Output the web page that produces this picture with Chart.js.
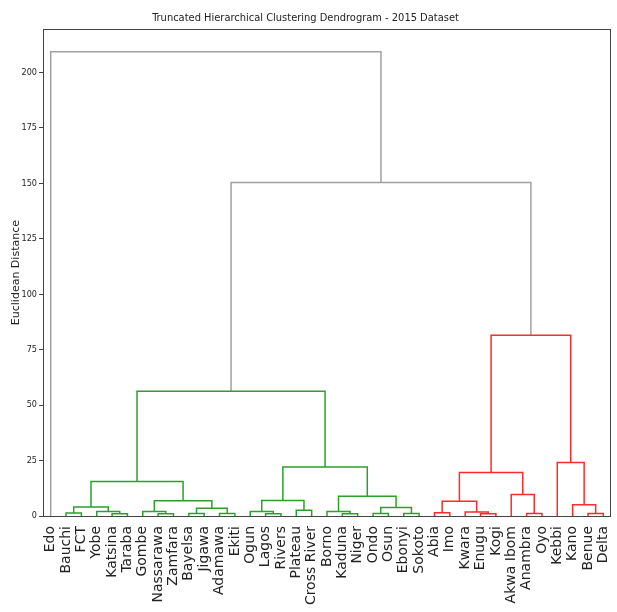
<!DOCTYPE html>
<html>
<head>
<meta charset="utf-8">
<script src="https://cdn.jsdelivr.net/npm/chart.js@4.4.1/dist/chart.umd.min.js"></script>
<style>
  html, body { margin: 0; padding: 0; background: #fff; }
  canvas { display: block; }
</style>
</head>
<body>
<canvas id="dendro" width="617" height="612"></canvas>
<script>
// hojas en el orden en que aparecen en el dendrograma
const leaves = ['Edo', 'Bauchi', 'FCT', 'Yobe', 'Katsina', 'Taraba', 'Gombe', 'Nassarawa',
  'Zamfara', 'Bayelsa', 'Jigawa', 'Adamawa', 'Ekiti', 'Ogun', 'Lagos', 'Rivers', 'Plateau',
  'Cross River', 'Borno', 'Kaduna', 'Niger', 'Ondo', 'Osun', 'Ebonyi', 'Sokoto', 'Abia', 'Imo',
  'Kwara', 'Enugu', 'Kogi', 'Akwa Ibom', 'Anambra', 'Oyo', 'Kebbi', 'Kano', 'Benue', 'Delta'];

// fusiones estilo linkage: [hijo izq, hijo der, distancia]
// hojas 0..36, cada fusión crea el nodo 37, 38, ...
const merges = [
  [4, 5, 1.0], [3, 37, 2.0], [1, 2, 1.3], [39, 38, 4.1],
  [7, 8, 1.0], [6, 41, 2.0], [9, 10, 1.1], [11, 12, 1.1], [43, 44, 3.5], [42, 45, 6.9],
  [40, 46, 15.5],
  [14, 15, 1.0], [13, 48, 2.0], [16, 17, 2.6], [49, 50, 7.0],
  [19, 20, 1.0], [18, 52, 2.0], [21, 22, 1.1], [23, 24, 1.1], [54, 55, 3.8], [53, 56, 8.9],
  [51, 57, 22.1],
  [47, 58, 56.2],
  [25, 26, 1.5], [28, 29, 1.0], [27, 61, 1.8], [60, 62, 6.6],
  [31, 32, 1.1], [30, 64, 9.7], [63, 65, 19.6],
  [35, 36, 1.1], [34, 67, 5.1], [33, 68, 24.1],
  [66, 69, 81.5],
  [59, 70, 150.4],
  [0, 71, 209.3]
];

const yTicks = [0, 25, 50, 75, 100, 125, 150, 175, 200];
const colorThreshold = 100;
const clusterColors = ['#2ca02c', '#ff2a2a'];
const aboveColor = '#a0a0a0';

const narrow = "'Liberation Sans Narrow', 'DejaVu Sans Condensed', 'DejaVu Sans', sans-serif";

// posiciones de los nodos (hojas en 5, 15, 25, ... como scipy)
const n = leaves.length;
const nodeX = leaves.map((_, i) => 10 * i + 5);
const nodeH = leaves.map(() => 0);
merges.forEach(([a, b, h]) => {
  nodeX.push((nodeX[a] + nodeX[b]) / 2);
  nodeH.push(h);
});

// color por cluster debajo del umbral
const linkColor = [];
let nextColor = 0;
function paint(id, color) {
  if (id < n) return;
  const k = id - n;
  const [a, b, h] = merges[k];
  let c = color;
  if (!c && h < colorThreshold) c = clusterColors[nextColor++];
  linkColor[k] = c || aboveColor;
  paint(a, c);
  paint(b, c);
}
paint(n + merges.length - 1, null);

const datasets = merges.map(([a, b, h], k) => ({
  data: [
    { x: nodeX[a], y: nodeH[a] },
    { x: nodeX[a], y: h },
    { x: nodeX[b], y: h },
    { x: nodeX[b], y: nodeH[b] }
  ],
  borderColor: linkColor[k],
  borderWidth: 1.5,
  showLine: true,
  pointRadius: 0,
  fill: false
}));

// marco completo alrededor del área
const boxPlugin = {
  id: 'box',
  afterDraw(chart) {
    const { ctx, chartArea: a } = chart;
    ctx.save();
    ctx.strokeStyle = '#444';
    ctx.lineWidth = 1;
    ctx.strokeRect(Math.round(a.left) + 0.5, Math.round(a.top) + 0.5,
      Math.round(a.right - a.left) - 1, Math.round(a.bottom - a.top));
    ctx.restore();
  }
};

new Chart(document.getElementById('dendro'), {
  type: 'scatter',
  data: { datasets },
  plugins: [boxPlugin],
  options: {
    responsive: false,
    animation: false,
    devicePixelRatio: 1,
    layout: { padding: { left: 0, right: 6, top: 0, bottom: 0 } },
    plugins: {
      legend: { display: false },
      tooltip: { enabled: false },
      title: {
        display: true,
        text: 'Truncated Hierarchical Clustering Dendrogram - 2015 Dataset',
        color: '#222',
        font: { family: narrow, size: 11, weight: 'normal' },
        padding: { top: 12, bottom: 4 }
      }
    },
    scales: {
      x: {
        type: 'linear',
        min: 0,
        max: 10 * n,
        grid: { display: false, drawTicks: false },
        border: { display: false },
        afterBuildTicks: (s) => { s.ticks = leaves.map((_, i) => ({ value: 10 * i + 5 })); },
        afterFit: (s) => { s.height = 96; s.paddingLeft = 0; s.paddingRight = 0; },
        ticks: {
          autoSkip: false,
          minRotation: 90,
          maxRotation: 90,
          padding: 10,
          color: '#222',
          font: { family: "'DejaVu Sans', sans-serif", size: 14 },
          callback: (v, i) => leaves[i]
        }
      },
      y: {
        min: 0,
        max: 219.5,
        grid: { drawOnChartArea: false, drawTicks: true, tickLength: 4, tickColor: '#444' },
        border: { display: false },
        afterBuildTicks: (s) => { s.ticks = yTicks.map(v => ({ value: v })); },
        afterFit: (s) => { s.width = 43; },
        ticks: {
          padding: 2,
          color: '#222',
          font: { family: narrow, size: 9 }
        },
        title: {
          display: true,
          text: 'Euclidean Distance',
          color: '#222',
          font: { family: "'DejaVu Sans', sans-serif", size: 11 },
          padding: { top: 10, bottom: 0 }
        }
      }
    }
  }
});
</script>
</body>
</html>
